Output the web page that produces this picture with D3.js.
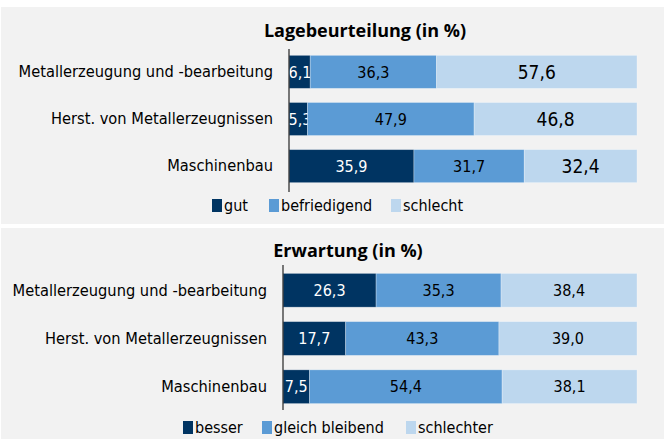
<!DOCTYPE html>
<html>
<head>
<meta charset="utf-8">
<script src="https://cdn.jsdelivr.net/npm/d3@7"></script>
<style>
  body { margin: 0; background: #fff; }
  text { font-family: "Liberation Sans Narrow", "DejaVu Sans Condensed", sans-serif; }
</style>
</head>
<body>
<div id="chart"></div>
<script>
// Data
var categories = ["Metallerzeugung und -bearbeitung", "Herst. von Metallerzeugnissen", "Maschinenbau"];

var lageKeys = ["gut", "befriedigend", "schlecht"];
var lageGut = [6.1, 5.3, 35.9];
var lageBefriedigend = [36.3, 47.9, 31.7];
var lageSchlecht = [57.6, 46.8, 32.4];

var erwKeys = ["besser", "gleich bleibend", "schlechter"];
var erwBesser = [26.3, 17.7, 7.5];
var erwGleich = [35.3, 43.3, 54.4];
var erwSchlechter = [38.4, 39.0, 38.1];

var colors = ["#003462", "#5b9bd5", "#bdd7ee"];
var labelColors = ["#fff", "#000", "#000"];

var w = 669, h = 439;
var svg = d3.select("#chart").append("svg")
  .attr("width", w).attr("height", h);

function drawPanel(opt) {
  var g = svg.append("g");
  g.append("rect")
    .attr("x", 1).attr("y", opt.top)
    .attr("width", 663).attr("height", opt.bottom - opt.top)
    .attr("fill", "#f2f2f2");

  g.append("text")
    .attr("x", opt.titleX).attr("y", opt.titleY)
    .attr("text-anchor", "middle")
    .style("font-family", "'Open Sans', 'DejaVu Sans', sans-serif")
    .style("font-weight", "bold").style("font-size", "18px")
    .text(opt.title);

  var x = d3.scaleLinear().domain([0, 100]).range([opt.x0, 637]);
  var y = d3.scaleBand().domain(categories)
    .range([opt.y0, opt.y1]).paddingInner(0.3).paddingOuter(0.05);

  // stacked rows
  var rows = categories.map(function(c, i) {
    var r = { cat: c };
    opt.keys.forEach(function(k, j) { r[k] = opt.series[j][i]; });
    return r;
  });
  var stack = d3.stack().keys(opt.keys)(rows);

  var layers = g.selectAll(".layer").data(stack).enter().append("g")
    .attr("fill", function(d, i) { return colors[i]; });

  layers.selectAll("rect").data(function(d) { return d; }).enter().append("rect")
    .attr("x", function(d) { return x(d[0]); })
    .attr("y", function(d) { return y(d.data.cat); })
    .attr("width", function(d) { return x(d[1]) - x(d[0]); })
    .attr("height", y.bandwidth())
    .attr("stroke", "rgba(255,255,255,0.35)").attr("stroke-width", 0.8);

  layers.each(function(layer, li) {
    d3.select(this).selectAll("text").data(layer).enter().append("text")
      .attr("x", function(d) {
        var cx = (x(d[0]) + x(d[1])) / 2;
        return Math.max(cx, x(d[0]) + 11);
      })
      .attr("y", function(d) { return y(d.data.cat) + y.bandwidth() / 2; })
      .attr("dy", "0.36em")
      .attr("text-anchor", "middle")
      .attr("fill", labelColors[li])
      .style("font-size", (opt.bigLast && li == 2) ? "19px" : "16px")
      .text(function(d) { return d3.format(".1f")(d[1] - d[0]).replace(".", ","); });
  });

  // category axis
  var axis = d3.axisLeft(y).tickSize(0).tickPadding(16);
  var ag = g.append("g").attr("transform", "translate(" + opt.x0 + ",0)").call(axis);
  ag.select(".domain").attr("d", "M0," + opt.axisTop + "V" + opt.axisBottom)
    .attr("stroke", "#333").attr("stroke-width", 1.3);
  ag.selectAll("text").style("font-size", "16.3px").attr("fill", "#000");
  ag.attr("font-family", null).attr("font-size", null);

  // legend
  var lg = g.append("g");
  opt.keys.forEach(function(k, i) {
    lg.append("rect")
      .attr("x", opt.legendX[i]).attr("y", opt.legendY - 6)
      .attr("width", 10).attr("height", 13)
      .attr("fill", colors[i]);
    lg.append("text")
      .attr("x", opt.legendX[i] + 12).attr("y", opt.legendY)
      .attr("dy", "0.38em")
      .style("font-size", "16px")
      .text(k);
  });
}

drawPanel({
  top: 7, bottom: 224, title: "Lagebeurteilung (in %)", titleX: 365, titleY: 37,
  x0: 289, y0: 53, y1: 185, axisTop: 49, axisBottom: 192,
  keys: lageKeys, series: [lageGut, lageBefriedigend, lageSchlecht], bigLast: true,
  legendX: [212, 269, 391], legendY: 205
});

drawPanel({
  top: 228, bottom: 439, title: "Erwartung (in %)", titleX: 348, titleY: 257,
  x0: 283, y0: 271, y1: 406, axisTop: 265, axisBottom: 410,
  keys: erwKeys, series: [erwBesser, erwGleich, erwSchlechter], bigLast: false,
  legendX: [183, 262, 406], legendY: 427
});
</script>
</body>
</html>
